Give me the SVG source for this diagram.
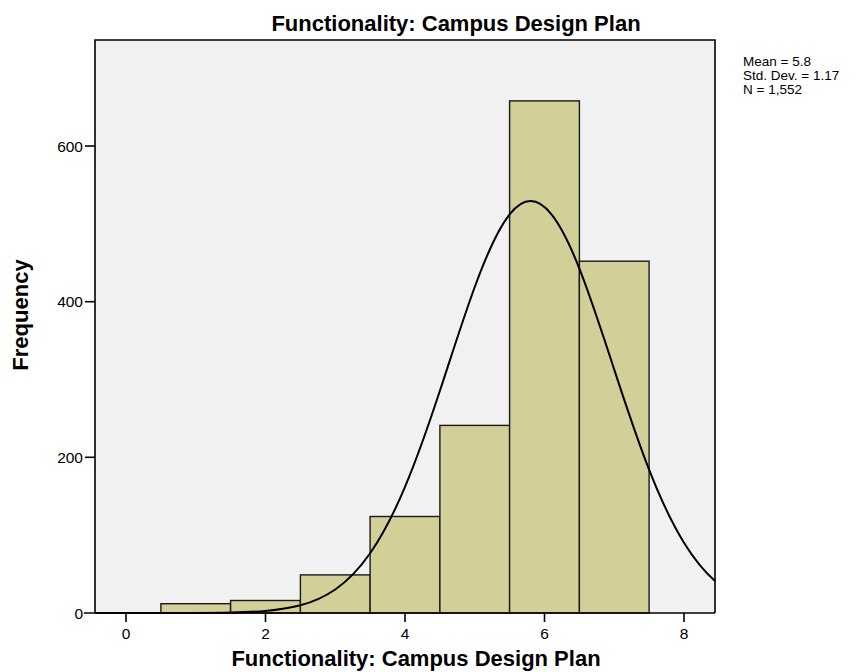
<svg xmlns="http://www.w3.org/2000/svg" width="856" height="672" viewBox="0 0 856 672">
<style>
.t{font-family:"Liberation Sans",Arial,sans-serif;fill:#000}
.title{font-size:22px;font-weight:bold}
.tick{font-size:15.5px}
.leg{font-size:13.5px}
.bar{fill:#d3cf98;stroke:#1a1a1a;stroke-width:1.4}
.ax{stroke:#000;stroke-width:1.6;fill:none}
</style>
<rect width="856" height="672" fill="#fff"/>
<rect id="plot-bg" x="95" y="40" width="620" height="573" fill="#f1f1f1"/>
<g id="bars">
<rect id="bar1" class="bar" x="160.9" y="603.7" width="69.7" height="9.3"/>
<rect id="bar2" class="bar" x="230.6" y="600.5" width="69.8" height="12.5"/>
<rect id="bar3" class="bar" x="300.4" y="574.9" width="69.7" height="38.1"/>
<rect id="bar4" class="bar" x="370.1" y="516.5" width="69.8" height="96.5"/>
<rect id="bar5" class="bar" x="439.9" y="425.4" width="69.7" height="187.6"/>
<rect id="bar6" class="bar" x="509.6" y="100.9" width="69.8" height="512.1"/>
<rect id="bar7" class="bar" x="579.4" y="261.2" width="69.7" height="351.8"/>
</g>
<g id="connectors">
<path id="normal-curve" fill="none" stroke="#000" stroke-width="2" stroke-linejoin="round" d="M95,613 L195.75,612.9 C207.4,612.85 219,612.75 230.6,612.5 C242.2,612.25 253.9,611.88 265.5,610.9 C277.1,609.92 288.8,608.4 300.4,605.3 C312,602.2 323.6,597.5 335.25,589.5 C346.9,581.5 358.5,570 370.1,553.3 C381.7,536.6 393.4,514.5 405,486.9 C416.6,459.3 428.3,426 439.9,390.8 C451.5,355.6 463.1,318.8 474.75,287 C486.4,255.2 498,229 509.6,214.4 C516.6,205.6 523.6,201.1 530.6,201.1 C537.6,201.1 544.5,205.6 551.5,214.4 C560.8,226 570.1,245.1 579.4,268.6 C591,297.95 602.6,334 614.25,369.6 C625.9,405.2 637.5,440 649.1,469.7 C660.7,499.4 672.4,523.9 684,542.7 C694.3,559.4 704.7,571.8 715,581"/>
</g>
<g id="frame">
<polyline class="ax" points="95,613 95,40 715,40 715,613"/>
<line class="ax" x1="84" y1="613" x2="715" y2="613" stroke-width="2.2"/>
</g>
<g id="y-axis">
<line class="ax" x1="85" y1="146" x2="95" y2="146"/>
<line class="ax" x1="85" y1="301.7" x2="95" y2="301.7"/>
<line class="ax" x1="85" y1="457.3" x2="95" y2="457.3"/>
<text class="t tick" x="83" y="151.5" text-anchor="end">600</text>
<text class="t tick" x="83" y="307.2" text-anchor="end">400</text>
<text class="t tick" x="83" y="462.8" text-anchor="end">200</text>
<text class="t tick" x="83" y="618.5" text-anchor="end">0</text>
</g>
<g id="x-axis">
<line class="ax" x1="126" y1="613" x2="126" y2="622"/>
<line class="ax" x1="265.5" y1="613" x2="265.5" y2="622"/>
<line class="ax" x1="405" y1="613" x2="405" y2="622"/>
<line class="ax" x1="544.5" y1="613" x2="544.5" y2="622"/>
<line class="ax" x1="684" y1="613" x2="684" y2="622"/>
<text class="t tick" x="126" y="639" text-anchor="middle">0</text>
<text class="t tick" x="265.5" y="639" text-anchor="middle">2</text>
<text class="t tick" x="405" y="639" text-anchor="middle">4</text>
<text class="t tick" x="544.5" y="639" text-anchor="middle">6</text>
<text class="t tick" x="684" y="639" text-anchor="middle">8</text>
</g>
<g id="titles">
<text class="t title" x="456" y="31" text-anchor="middle">Functionality: Campus Design Plan</text>
<text class="t title" x="416" y="666" text-anchor="middle">Functionality: Campus Design Plan</text>
<text class="t title" transform="translate(28,315) rotate(-90)" text-anchor="middle">Frequency</text>
</g>
<g id="legend">
<text class="t leg" x="743" y="66">Mean = 5.8</text>
<text class="t leg" x="743" y="80">Std. Dev. = 1.17</text>
<text class="t leg" x="743" y="94">N = 1,552</text>
</g>
</svg>
